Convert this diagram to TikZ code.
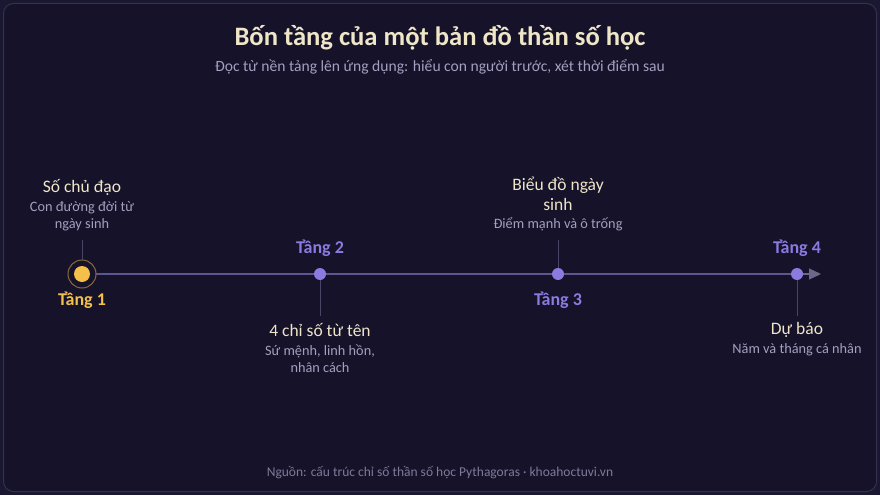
\documentclass[tikz,border=0pt]{standalone}
\usepackage{fontspec}
\setmainfont{Carlito}
\usepackage{tikz}
\usetikzlibrary{arrows.meta,positioning,calc}
\definecolor{bgdark}{HTML}{15122A}
\definecolor{bgouter}{HTML}{1A1730}
\definecolor{frameline}{HTML}{35304F}
\definecolor{titlecream}{HTML}{EFE6C8}
\definecolor{subgray}{HTML}{A49FBF}
\definecolor{footgray}{HTML}{7F7A99}
\definecolor{tierpurple}{HTML}{8B7BE0}
\definecolor{tieryellow}{HTML}{F5C04A}
\definecolor{ringorange}{HTML}{8A6A3A}
\definecolor{axisline}{HTML}{5E5690}
\definecolor{arrowgray}{HTML}{6E6888}
\definecolor{tickgray}{HTML}{4A4566}

\begin{document}
\begin{tikzpicture}[
    x=1pt, y=-1pt,
    stagetitle/.style={align=center, font=\fontsize{17.5}{19.5}\selectfont, text=titlecream},
    stagedesc/.style={align=center, font=\fontsize{14.3}{17}\selectfont, text=subgray},
    tierlabel/.style={font=\fontsize{18}{20}\selectfont\bfseries, text=tierpurple},
    dot/.style={circle, fill=tierpurple, inner sep=0pt, minimum size=12pt},
    tick/.style={draw=tickgray, line width=0.8pt}
]
    % Background and frame
    \fill[bgouter] (0,0) rectangle (880,495);
    \useasboundingbox (0,0) rectangle (880,495);
    \draw[frameline, fill=bgdark, line width=1pt, rounded corners=10pt] (3.5,3.5) rectangle (876.5,491.5);

    % Title
    \node[font=\fontsize{26.6}{30}\selectfont\bfseries, text=titlecream] (title) at (440,38) {Bốn tầng của một bản đồ thần số học};
    \node[font=\fontsize{15.6}{18}\selectfont, text=subgray] (subtitle) at (440,67) {Đọc từ nền tảng lên ứng dụng: hiểu con người trước, xét thời điểm sau};

    % Timeline
    \coordinate (start) at (68,274);
    \coordinate (finish) at (821,274);
    \draw[axisline, line width=2pt] (start) -- (808,274);
    \draw[arrowgray, line width=1.2pt, -{Triangle[length=12pt,width=11pt]}] (800,274) -- (finish);

    % Stage points
    \node[circle, draw=ringorange, line width=1pt, fill=bgdark, minimum size=28pt, inner sep=0pt] (ring1) at (82,274) {};
    \node[circle, fill=tieryellow, inner sep=0pt, minimum size=16pt] (p1) at (82,274) {};
    \node[dot] (p2) at (320,274) {};
    \node[dot] (p3) at (558,274) {};
    \node[dot] (p4) at (797,274) {};

    % Tier labels
    \node[tierlabel, text=tieryellow] (t1) at (82,300) {Tầng 1};
    \node[tierlabel] (t2) at (320,248) {Tầng 2};
    \node[tierlabel] (t3) at (558,300) {Tầng 3};
    \node[tierlabel] (t4) at (797,248) {Tầng 4};

    % Stage texts
    \node[stagetitle] (s1) at (82,187) {Số chủ đạo};
    \node[stagedesc] (d1) at (82,216) {Con đường đời từ\\ngày sinh};
    \node[stagetitle] (s2) at (320,330) {4 chỉ số từ tên};
    \node[stagedesc] (d2) at (320,359) {Sứ mệnh, linh hồn,\\nhân cách};
    \node[stagetitle] (s3) at (558,194) {Biểu đồ ngày\\sinh};
    \node[stagedesc] (d3) at (558,224) {Điểm mạnh và ô trống};
    \node[stagetitle] (s4) at (797,330) {Dự báo};
    \node[stagedesc] (d4) at (797,350) {Năm và tháng cá nhân};

    % Ticks
    \coordinate (k1) at (82,240);
    \coordinate (k2) at (320,316);
    \coordinate (k3) at (558,240);
    \coordinate (k4) at (797,316);
    \draw[tick] (k1) -- (ring1.north);
    \draw[tick] (p2) -- (k2);
    \draw[tick] (k3) -- (p3);
    \draw[tick] (p4) -- (k4);

    % Footer
    \node[font=\fontsize{13.5}{16}\selectfont, text=footgray] (source) at (440,473) {Nguồn: cấu trúc chỉ số thần số học Pythagoras · khoahoctuvi.vn};
\end{tikzpicture}
\end{document}
